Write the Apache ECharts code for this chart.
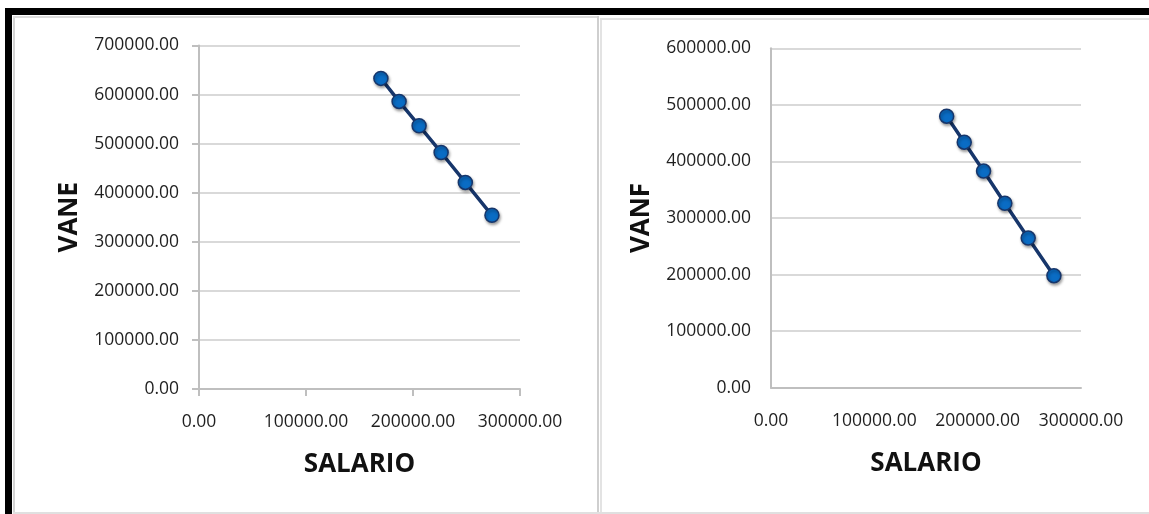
<!DOCTYPE html>
<html>
<head>
<meta charset="utf-8">
<title>VANE / VANF vs SALARIO</title>
<script src="https://cdn.jsdelivr.net/npm/echarts@6/dist/echarts.min.js"></script>
<style>
  html, body { margin: 0; padding: 0; background: #fff; }
  #chart { width: 1149px; height: 514px; }
</style>
</head>
<body>
<div id="chart"></div>
<script>
// values
const SALARIO = [170000, 187000, 205700, 226270, 248900, 273790];
const VANE = [633000, 586000, 536500, 482000, 421000, 354000];
const VANF = [480000, 434000, 383000, 326000, 264500, 198000];

const X_TICKS = [0, 100000, 200000, 300000];
const VANE_TICKS = [0, 100000, 200000, 300000, 400000, 500000, 600000, 700000];
const VANF_TICKS = [0, 100000, 200000, 300000, 400000, 500000, 600000];

const FONT = '"Open Sans", "Noto Sans", sans-serif';
const TEXT_COLOR = '#1f1f1f';
const GRID_COLOR = '#d9d9d9';
const AXIS_COLOR = '#bfbfbf';
const LINE_COLOR = '#17366b';
const MARKER_COLOR = '#0a6cc4';

const fmt = (v) => v.toFixed(2);

// build [x, y] pairs for a series
function pairs(xs, ys) {
  return xs.map((x, i) => [x, ys[i]]);
}

function xAxis(gridIndex, ticks, showTicks) {
  return {
    type: 'value',
    gridIndex: gridIndex,
    min: ticks[0],
    max: ticks[ticks.length - 1],
    interval: ticks[1] - ticks[0],
    name: 'SALARIO',
    nameLocation: 'middle',
    nameGap: 63,
    nameTextStyle: {fontFamily: FONT, fontSize: 26, fontWeight: 'bold', color: '#111'},
    axisLine: {show: true, lineStyle: {color: AXIS_COLOR, width: 2}},
    axisTick: {show: showTicks, length: 7, lineStyle: {color: AXIS_COLOR, width: 2}},
    splitLine: {show: false},
    axisLabel: {
      formatter: fmt, margin: 24, fontFamily: FONT, fontSize: 17.5, color: TEXT_COLOR
    }
  };
}

function yAxis(gridIndex, ticks, name, showTicks) {
  return {
    type: 'value',
    gridIndex: gridIndex,
    min: ticks[0],
    max: ticks[ticks.length - 1],
    interval: ticks[1] - ticks[0],
    name: name,
    nameLocation: 'middle',
    nameGap: 116,
    nameTextStyle: {fontFamily: FONT, fontSize: 26, fontWeight: 'bold', color: '#111'},
    axisLine: {show: true, lineStyle: {color: AXIS_COLOR, width: 2}},
    axisTick: {show: showTicks, length: 7, lineStyle: {color: AXIS_COLOR, width: 2}},
    splitLine: {show: true, lineStyle: {color: GRID_COLOR, width: 2}},
    axisLabel: {
      formatter: fmt, margin: 20, fontFamily: FONT, fontSize: 17.5, color: TEXT_COLOR
    }
  };
}

function series(index, data) {
  return {
    type: 'line',
    xAxisIndex: index,
    yAxisIndex: index,
    data: data,
    symbol: 'circle',
    symbolSize: 14,
    lineStyle: {color: LINE_COLOR, width: 3.5},
    itemStyle: {
      color: MARKER_COLOR,
      borderColor: LINE_COLOR,
      borderWidth: 1.5,
      shadowBlur: 3,
      shadowOffsetX: 1,
      shadowOffsetY: 2,
      shadowColor: 'rgba(0,0,0,0.35)'
    },
    animation: false
  };
}

// black frame plus the thin grey panel borders
const frame = [
  {type: 'rect', shape: {x: 5, y: 8, width: 1144, height: 7}, style: {fill: '#000'}},
  {type: 'rect', shape: {x: 5, y: 8, width: 7, height: 506}, style: {fill: '#000'}},
  {type: 'rect', shape: {x: 13, y: 16, width: 2, height: 498}, style: {fill: '#d4d4d4'}},
  {type: 'rect', shape: {x: 13, y: 16, width: 585, height: 2}, style: {fill: '#dcdcdc'}},
  {type: 'rect', shape: {x: 597, y: 16, width: 2, height: 498}, style: {fill: '#cfcfcf'}},
  {type: 'rect', shape: {x: 600, y: 18, width: 2, height: 496}, style: {fill: '#e3e3e3'}},
  {type: 'rect', shape: {x: 602, y: 18, width: 547, height: 2}, style: {fill: '#e3e3e3'}},
  {type: 'rect', shape: {x: 13, y: 512, width: 1136, height: 2}, style: {fill: '#e0e0e0'}}
];

const chart = echarts.init(document.getElementById('chart'), null, {renderer: 'canvas'});

chart.setOption({
  backgroundColor: '#fff',
  animation: false,
  graphic: frame,
  grid: [
    {left: 199, top: 45.5, width: 321, height: 343.5},
    {left: 771, top: 48.3, width: 310, height: 339.4}
  ],
  xAxis: [xAxis(0, X_TICKS, true), xAxis(1, X_TICKS, false)],
  yAxis: [yAxis(0, VANE_TICKS, 'VANE', true), yAxis(1, VANF_TICKS, 'VANF', false)],
  series: [series(0, pairs(SALARIO, VANE)), series(1, pairs(SALARIO, VANF))]
});
</script>
</body>
</html>
